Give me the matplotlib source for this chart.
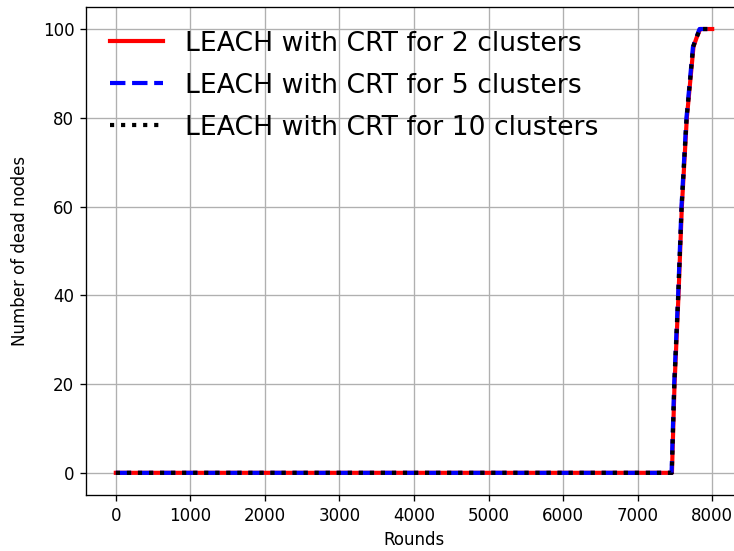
import matplotlib
matplotlib.use("Agg")
import matplotlib.pyplot as plt

# Daten
rounds_2 = [0, 7460, 7495, 7548, 7593, 7660, 7749, 7790, 7839, 8000]
dead_2 = [0, 0, 20, 40, 60, 80, 96, 98, 100, 100]

rounds_5 = [0, 7455, 7490, 7543, 7588, 7655, 7742, 7785, 7830, 7950]
dead_5 = [0, 0, 20, 40, 60, 80, 96, 98, 100, 100]

rounds_10 = [0, 7458, 7492, 7545, 7590, 7657, 7745, 7788, 7835, 7960]
dead_10 = [0, 0, 20, 40, 60, 80, 96, 98, 100, 100]

labels = ["LEACH with CRT for 2 clusters",
          "LEACH with CRT for 5 clusters",
          "LEACH with CRT for 10 clusters"]

DPI = 120
fig = plt.figure(figsize=(734 / DPI, 551 / DPI), dpi=DPI)
ax = fig.add_axes([0.1172, 0.1016, 0.8937, 0.886])

ax.plot(rounds_2, dead_2, color="red", linestyle="-", linewidth=2.5, label=labels[0])
ax.plot(rounds_5, dead_5, color="blue", linestyle="--", linewidth=2.5, label=labels[1])
ax.plot(rounds_10, dead_10, color="black", linestyle=":", linewidth=2.5, label=labels[2])

ax.set_xlabel("Rounds")
ax.set_ylabel("Number of dead nodes", labelpad=8)
ax.grid(True)
ax.legend(fontsize=16, frameon=False, loc="upper left", labelspacing=0.6)

plt.savefig("out.png", dpi=DPI)
